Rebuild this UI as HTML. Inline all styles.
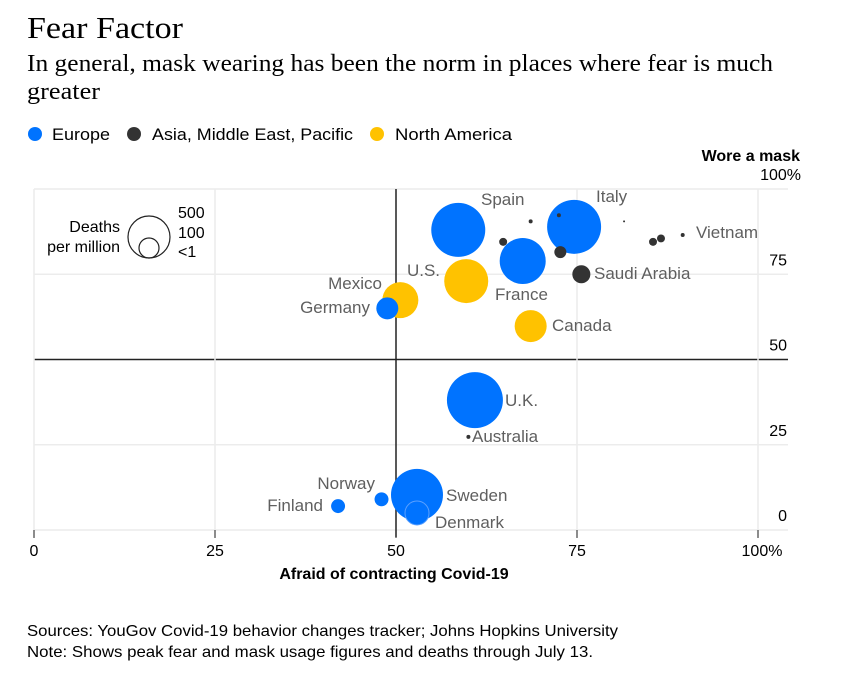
<!DOCTYPE html>
<html><head><meta charset="utf-8">
<style>
body{margin:0;background:#fff;width:855px;height:677px;overflow:hidden;font-family:"Liberation Sans",sans-serif;}
svg text{font-family:"Liberation Sans",sans-serif;}
</style></head>
<body>
<svg id="chart" width="855" height="677" xmlns="http://www.w3.org/2000/svg">
<text x="27" y="38" style="font-family:'Liberation Serif',serif" font-size="31" textLength="156" lengthAdjust="spacingAndGlyphs" fill="#000">Fear Factor</text>
<text x="27" y="71" style="font-family:'Liberation Serif',serif" font-size="24" textLength="746" lengthAdjust="spacingAndGlyphs" fill="#000">In general, mask wearing has been the norm in places where fear is much</text>
<text x="27" y="99" style="font-family:'Liberation Serif',serif" font-size="24" textLength="73" lengthAdjust="spacingAndGlyphs" fill="#000">greater</text>
<g font-size="17">
<circle cx="35" cy="134" r="7" fill="#0073ff"/><text x="52" y="140" textLength="58" lengthAdjust="spacingAndGlyphs">Europe</text>
<circle cx="134" cy="134" r="7" fill="#333"/><text x="152" y="140" textLength="201" lengthAdjust="spacingAndGlyphs">Asia, Middle East, Pacific</text>
<circle cx="377" cy="134" r="7" fill="#ffc200"/><text x="395" y="140" textLength="117" lengthAdjust="spacingAndGlyphs">North America</text>
</g>
<g id="grid"></g>
<g id="marks"></g>
<g id="labels" font-size="17" fill="#5f5f5f"></g>
<g>
<text x="120" y="232" font-size="16" text-anchor="end">Deaths</text>
<text x="120" y="252" font-size="16" text-anchor="end">per million</text>
<circle cx="149" cy="237" r="21" fill="none" stroke="#222" stroke-width="1.2"/>
<circle cx="149" cy="248" r="10" fill="none" stroke="#222" stroke-width="1.2"/>
<text x="178" y="218" font-size="16">500</text>
<text x="178" y="238" font-size="16">100</text>
<text x="178" y="257" font-size="16">&lt;1</text>
</g>
<text x="800" y="161" font-size="16" font-weight="bold" text-anchor="end">Wore a mask</text>
<text x="394" y="579" font-size="16" font-weight="bold" text-anchor="middle">Afraid of contracting Covid-19</text>
<text x="27" y="636" font-size="16" textLength="591" lengthAdjust="spacingAndGlyphs">Sources: YouGov Covid-19 behavior changes tracker; Johns Hopkins University</text>
<text x="27" y="657" font-size="16" textLength="566" lengthAdjust="spacingAndGlyphs">Note: Shows peak fear and mask usage figures and deaths through July 13.</text>
</svg>
<script>
const countries=["Spain","Italy","France","U.S.","Canada","Saudi Arabia","Mexico","Germany","U.K.","Australia","Sweden","Denmark","Norway","Finland","Asia1","Asia2","Asia3","Asia4","Asia5","Asia6","Vietnam","Asia7"];
const fear=[58.6,74.6,67.5,59.7,68.6,75.6,50.6,48.8,60.9,60,52.9,52.9,48,42,64.8,72.7,85.5,86.6,68.6,72.5,89.6,81.5];
const mask=[88,88.9,78.9,73,59.8,75,67.4,65,38.1,27.3,10.3,5,9,7,84.5,81.5,84.5,85.5,90.5,92.3,86.5,90.5];
const deaths=[825,825,599,548,290,92,367,137,887,4.5,765,163,55,55,18,41,18,18,4.5,4.5,4.5,1];
const region=["eu","eu","eu","na","na","as","na","eu","eu","as","eu","eu","eu","eu","as","as","as","as","as","as","as","as"];
const xTicks=["0","25","50","75","100%"];
const yTicks=["0","25","50","75","100%"];
const NS="http://www.w3.org/2000/svg";
const X=v=>34+v*7.24, Y=v=>530-v*3.41, R=d=>0.94*Math.sqrt(d);
const colors={eu:"#0073ff",as:"#333333",na:"#ffc200"};
const grid=document.getElementById("grid");
function mk(tag,attrs,parent){const e=document.createElementNS(NS,tag);for(const k in attrs)e.setAttribute(k,attrs[k]);parent.appendChild(e);return e;}
yTicks.forEach((t,i)=>{const v=i*25;
 const l=mk("line",{x1:34,x2:788,y1:Y(v),y2:Y(v),stroke:v===50?"#222":"#ececec","stroke-width":1.5},grid);
 
 
 const tx=mk("text",{x:v===100?801:787,y:Y(v)-9,"font-size":16,"text-anchor":"end"},grid);tx.textContent=t;
 
 
});
xTicks.forEach((t,i)=>{const v=i*25;
 const l=mk("line",{x1:X(v),x2:X(v),y1:189,y2:537,stroke:v===50?"#222":"#ececec","stroke-width":1.5},grid);
 
 
 const tk=mk("line",{x1:X(v),x2:X(v),y1:530,y2:538,stroke:"#222","stroke-width":1},grid);
 
 
 const tx=mk("text",{x:X(v)+(v===100?4:0),y:556,"font-size":16,"text-anchor":"middle"},grid);tx.textContent=t;
 
 
});
const marks=document.getElementById("marks");
const order=countries.map((c,i)=>i).sort((a,b)=>deaths[b]-deaths[a]);
order.forEach(i=>{
 const c=mk("circle",{cx:X(fear[i]),cy:Y(mask[i]),r:Math.max(1,R(deaths[i])),fill:colors[region[i]],stroke:countries[i]==="Denmark"?"#5aa0ff":"none"},marks);
 
 
});
const labelPos={"Spain":[481,205,"start"],"Italy":[596,202,"start"],"France":[495,300,"start"],"U.S.":[440,276,"end"],"Canada":[552,331,"start"],"Saudi Arabia":[594,279,"start"],"Mexico":[382,289,"end"],"Germany":[370,313,"end"],"U.K.":[505,406,"start"],"Australia":[472,442,"start"],"Sweden":[446,501,"start"],"Denmark":[435,528,"start"],"Norway":[375,489,"end"],"Finland":[323,511,"end"],"Vietnam":[696,238,"start"]};
const labels=document.getElementById("labels");
for(const k in labelPos){const p=labelPos[k];
 const t=mk("text",{x:p[0],y:p[1],"text-anchor":p[2]},labels);t.textContent=k;
 
 
}
</script>
</body></html>
